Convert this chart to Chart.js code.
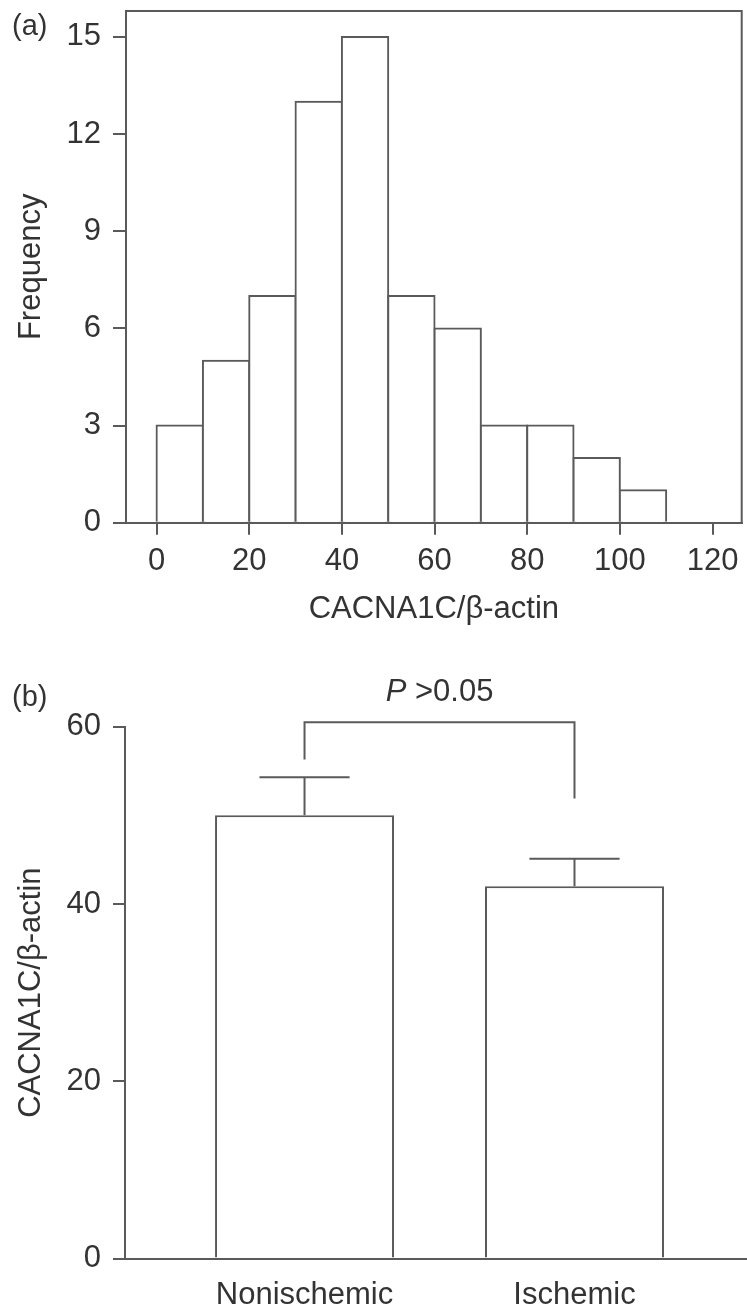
<!DOCTYPE html>
<html>
<head>
<meta charset="utf-8">
<script src="https://cdn.jsdelivr.net/npm/chart.js@4.4.0/dist/chart.umd.min.js"></script>
<style>
  body { margin: 0; background: #fff; }
  #wrap { position: relative; width: 747px; height: 1310px; overflow: hidden; }
  canvas { position: absolute; left: 0; }
  .panel { position: absolute; left: 12px; font: 29px 'Liberation Sans', Arial, sans-serif; line-height: 29px; color: #333; }
</style>
</head>
<body>
<div id="wrap">
  <canvas id="hist" width="747" height="640" style="top:0"></canvas>
  <canvas id="bars" width="747" height="670" style="top:640px"></canvas>
  <div class="panel" style="top:11px">(a)</div>
  <div class="panel" style="top:682px">(b)</div>
</div>
<script>
// (a) histogram
const binStarts = [0, 10, 20, 30, 40, 50, 60, 70, 80, 90, 100];
const binWidth = 10;
const binCounts = [3, 5, 7, 13, 15, 7, 6, 3, 3, 2, 1];
const freqTicks = [0, 3, 6, 9, 12, 15];
const ratioTicks = [0, 20, 40, 60, 80, 100, 120];

// (b) group means with error bars
const groups = ['Nonischemic', 'Ischemic'];
const groupMeans = [50, 42];
const groupErrors = [4.3, 3.1];
const meanTicks = [0, 20, 40, 60];
const bracketEnds = [56.3, 51.9];
const bracketTop = 60.5;
const pValueText = '>0.05';

const FONT = "'Liberation Sans', Arial, Helvetica, sans-serif";
const LINE = '#5a5a5a';
const TEXT = '#333';

Chart.defaults.font.family = FONT;
Chart.defaults.font.size = 31;
Chart.defaults.color = TEXT;

// top and right edges of the histogram box
const frame = {
  id: 'frame',
  afterDraw(chart) {
    const { ctx, chartArea: a } = chart;
    ctx.save();
    ctx.strokeStyle = LINE;
    ctx.lineWidth = 2;
    ctx.beginPath();
    ctx.moveTo(a.left, a.top);
    ctx.lineTo(a.right, a.top);
    ctx.lineTo(a.right, a.bottom);
    ctx.stroke();
    ctx.restore();
  }
};

// keep label overflow from pushing the plot area around
const fixY = w => s => { s.width = w; s.paddingTop = 0; s.paddingBottom = 0; };
const fixX = h => s => { s.height = h; s.paddingLeft = 0; s.paddingRight = 0; };

new Chart(document.getElementById('hist'), {
  type: 'bar',
  data: {
    datasets: [{
      data: binStarts.map((s, i) => ({ x: s + binWidth / 2, y: binCounts[i] })),
      backgroundColor: '#fff',
      borderColor: LINE,
      borderWidth: 2,
      inflateAmount: 1,
      barPercentage: 1,
      categoryPercentage: 1
    }]
  },
  options: {
    responsive: false,
    animation: false,
    events: [],
    layout: { padding: { top: 11, right: 5.3 } },
    plugins: { legend: { display: false }, tooltip: { enabled: false } },
    scales: {
      x: {
        type: 'linear',
        min: -6.6,
        max: 126.3,
        offset: false,
        afterBuildTicks: s => { s.ticks = ratioTicks.map(v => ({ value: v })); },
        afterFit: fixX(640 - 522.7),
        grid: { offset: false, drawOnChartArea: false, tickLength: 12, color: LINE, lineWidth: 2 },
        border: { color: LINE, width: 2 },
        ticks: { padding: 8, maxRotation: 0, autoSkip: false },
        title: { display: true, text: 'CACNA1C/β-actin', padding: { bottom: 12 } }
      },
      y: {
        min: 0,
        max: 15.8,
        afterBuildTicks: s => { s.ticks = freqTicks.map(v => ({ value: v })); },
        afterFit: fixY(126),
        grid: { drawOnChartArea: false, tickLength: 13, color: LINE, lineWidth: 2 },
        border: { color: LINE, width: 2 },
        ticks: { padding: 12 },
        title: { display: true, text: 'Frequency', padding: { top: 13 } }
      }
    }
  },
  plugins: [frame]
});

// error bar stems and caps, gaps break the line
const capHalf = 0.167;
const errorPoints = [];
groups.forEach((g, i) => {
  const top = groupMeans[i] + groupErrors[i];
  errorPoints.push(
    { x: i + 1, y: groupMeans[i] }, { x: i + 1, y: top }, { x: i + 1, y: null },
    { x: i + 1 - capHalf, y: top }, { x: i + 1 + capHalf, y: top }, { x: i + 1 + capHalf, y: null }
  );
});
const bracketPoints = [
  { x: 1, y: bracketEnds[0] }, { x: 1, y: bracketTop },
  { x: 2, y: bracketTop }, { x: 2, y: bracketEnds[1] }
];

const pLabel = {
  id: 'pLabel',
  afterDatasetsDraw(chart) {
    const { ctx, scales: { x, y } } = chart;
    const cx = x.getPixelForValue(1.5);
    const cy = y.getPixelForValue(bracketTop) - 30;
    ctx.save();
    ctx.fillStyle = TEXT;
    ctx.textBaseline = 'middle';
    ctx.textAlign = 'left';
    ctx.font = 'italic 31px ' + FONT;
    const pw = ctx.measureText('P ').width;
    ctx.font = '31px ' + FONT;
    const rw = ctx.measureText(pValueText).width;
    const left = cx - (pw + rw) / 2;
    ctx.font = 'italic 31px ' + FONT;
    ctx.fillText('P ', left, cy);
    ctx.font = '31px ' + FONT;
    ctx.fillText(pValueText, left + pw, cy);
    ctx.restore();
  }
};

const lineStyle = { type: 'line', borderColor: LINE, borderWidth: 2, pointRadius: 0, fill: false, tension: 0, spanGaps: false, order: 1 };

new Chart(document.getElementById('bars'), {
  type: 'bar',
  data: {
    datasets: [
      {
        type: 'bar',
        data: groups.map((g, i) => ({ x: i + 1, y: groupMeans[i] })),
        backgroundColor: '#fff',
        borderColor: LINE,
        borderWidth: 2,
        barPercentage: 0.663,
        categoryPercentage: 1,
        order: 2
      },
      Object.assign({ data: errorPoints }, lineStyle),
      Object.assign({ data: bracketPoints, clip: false }, lineStyle)
    ]
  },
  options: {
    responsive: false,
    animation: false,
    events: [],
    layout: { padding: { top: 86.7, right: 0 } },
    plugins: { legend: { display: false }, tooltip: { enabled: false } },
    scales: {
      x: {
        type: 'linear',
        min: 0.335,
        max: 2.639,
        offset: false,
        afterBuildTicks: s => { s.ticks = groups.map((g, i) => ({ value: i + 1 })); },
        afterFit: fixX(670 - 618.6),
        grid: { offset: false, drawOnChartArea: false, drawTicks: false },
        border: { color: LINE, width: 2 },
        ticks: { callback: (v, i) => groups[i], padding: 18, maxRotation: 0, autoSkip: false }
      },
      y: {
        min: 0,
        max: 60,
        afterBuildTicks: s => { s.ticks = meanTicks.map(v => ({ value: v })); },
        afterFit: fixY(125),
        grid: { drawOnChartArea: false, tickLength: 12, color: LINE, lineWidth: 2 },
        border: { color: LINE, width: 2 },
        ticks: { padding: 12 },
        title: { display: true, text: 'CACNA1C/β-actin', padding: { top: 13 } }
      }
    }
  },
  plugins: [pLabel]
});
</script>
</body>
</html>
